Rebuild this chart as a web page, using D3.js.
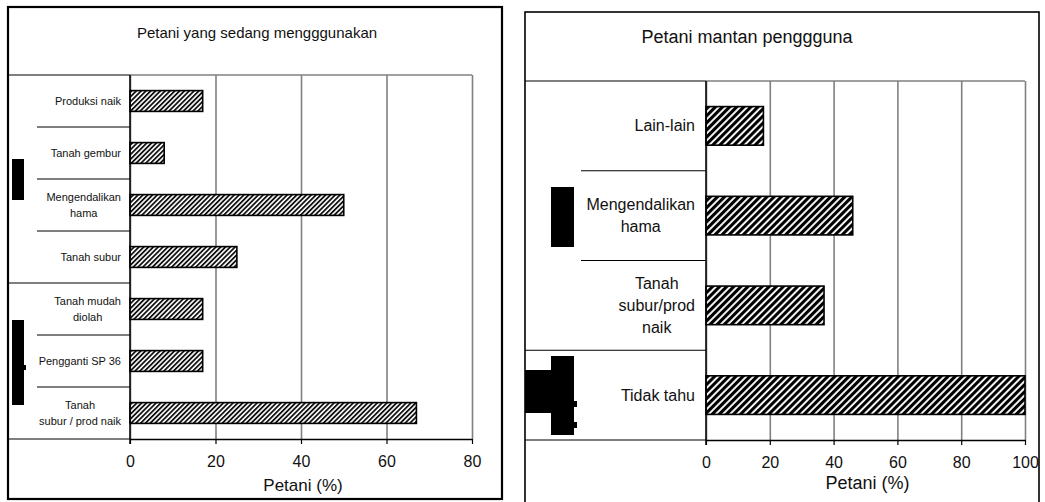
<!DOCTYPE html>
<html>
<head>
<meta charset="utf-8">
<script src="https://cdn.jsdelivr.net/npm/d3@7/dist/d3.min.js"></script>
<style>
  html, body { margin: 0; padding: 0; background: #fff; }
  svg { display: block; font-family: "Liberation Sans", Arial, sans-serif; }
</style>
</head>
<body>
<svg id="chart" width="1045" height="502"></svg>
<script>
// ---- data -------------------------------------------------------------
const leftTitle = "Petani yang sedang mengggunakan";
const leftCategories = [
  ["Produksi naik"],
  ["Tanah gembur"],
  ["Mengendalikan", "hama"],
  ["Tanah subur"],
  ["Tanah mudah", "diolah"],
  ["Pengganti SP 36"],
  ["Tanah", "subur / prod naik"]
];
const leftValues = [17, 8, 50, 25, 17, 17, 67];
const leftTicks = [0, 20, 40, 60, 80];

const rightTitle = "Petani mantan penggguna";
const rightCategories = [
  ["Lain-lain"],
  ["Mengendalikan", "hama"],
  ["Tanah", "subur/prod", "naik"],
  ["Tidak tahu"]
];
const rightValues = [18, 46, 37, 100];
const rightTicks = [0, 20, 40, 60, 80, 100];

const axisTitle = "Petani (%)";

// ---- drawing ----------------------------------------------------------
const svg = d3.select("#chart");
const defs = svg.append("defs");

// fine hatch for the first panel
const hatchA = defs.append("pattern")
  .attr("id", "hatchFine").attr("patternUnits", "userSpaceOnUse")
  .attr("width", 3.4).attr("height", 3.4)
  .attr("patternTransform", "rotate(45)");
hatchA.append("rect").attr("width", 3.4).attr("height", 3.4).attr("fill", "#fff");
hatchA.append("rect").attr("width", 1.8).attr("height", 3.4).attr("fill", "#111");

// bold hatch for the second panel
const hatchB = defs.append("pattern")
  .attr("id", "hatchBold").attr("patternUnits", "userSpaceOnUse")
  .attr("width", 5).attr("height", 5)
  .attr("patternTransform", "rotate(45)");
hatchB.append("rect").attr("width", 5).attr("height", 5).attr("fill", "#fff");
hatchB.append("rect").attr("width", 3.1).attr("height", 5).attr("fill", "#000");

function panel(cfg) {
  const g = svg.append("g");
  const x = d3.scaleLinear().domain(cfg.domain).range([cfg.plotLeft, cfg.plotRight]);
  const ids = cfg.categories.map((_, i) => i);
  const y = d3.scaleBand().domain(ids).range([cfg.plotTop, cfg.plotBottom])
    .paddingInner(cfg.padInner).paddingOuter(cfg.padInner / 2);
  const step = y.step();
  const h = cfg.plotBottom - cfg.plotTop;

  // outer frame
  g.append("rect")
    .attr("x", cfg.frame[0]).attr("y", cfg.frame[1])
    .attr("width", cfg.frame[2]).attr("height", cfg.frame[3])
    .attr("fill", "none").attr("stroke", "#000").attr("stroke-width", cfg.frameWidth);

  // title
  g.append("text").attr("x", cfg.titleX).attr("y", cfg.titleY).attr("dy", "0.35em")
    .attr("text-anchor", "middle").attr("font-size", cfg.titleSize).attr("fill", "#111")
    .text(cfg.title);

  // vertical gridlines + plot area frame (grey)
  g.append("g").attr("transform", `translate(0,${cfg.plotTop})`)
    .call(d3.axisBottom(x).tickValues(cfg.ticks).tickSize(h).tickFormat(""))
    .call(s => s.select(".domain").remove())
    .call(s => s.selectAll("line").attr("stroke", "#808080").attr("stroke-width", 1.6));
  g.append("line")
    .attr("x1", cfg.plotLeft).attr("x2", cfg.plotRight)
    .attr("y1", cfg.plotTop).attr("y2", cfg.plotTop)
    .attr("stroke", "#808080").attr("stroke-width", 1.6);

  // category table lines at the left
  const rows = d3.range(cfg.categories.length + 1);
  g.selectAll("line.sep").data(rows).join("line").attr("class", "sep")
    .attr("x1", i => (i === 0 || i === cfg.categories.length || i === cfg.fullRow) ? cfg.tableLeft : cfg.sepLeft)
    .attr("x2", cfg.plotLeft)
    .attr("y1", i => cfg.plotTop + i * step).attr("y2", i => cfg.plotTop + i * step)
    .attr("stroke", "#000").attr("stroke-width", 1.2);

  // bars
  g.selectAll("rect.bar").data(cfg.values).join("rect").attr("class", "bar")
    .attr("x", x(0)).attr("y", (d, i) => y(i))
    .attr("width", d => x(d) - x(0)).attr("height", y.bandwidth())
    .attr("fill", cfg.fill).attr("stroke", "#000").attr("stroke-width", 1.6);

  // bottom axis
  const ax = g.append("g").attr("transform", `translate(0,${cfg.plotBottom})`)
    .call(d3.axisBottom(x).tickValues(cfg.ticks).tickSize(5).tickPadding(12).tickSizeOuter(0));
  ax.select(".domain").attr("stroke", "#000").attr("stroke-width", 1.5);
  ax.selectAll("line").attr("stroke", "#000").attr("stroke-width", 1.2);
  ax.selectAll("text").attr("font-size", cfg.tickSize).attr("fill", "#111")
    .attr("font-family", "Liberation Sans, Arial, sans-serif");

  // left axis line
  g.append("line").attr("x1", cfg.plotLeft).attr("x2", cfg.plotLeft)
    .attr("y1", cfg.plotTop).attr("y2", cfg.plotBottom + 5)
    .attr("stroke", "#000").attr("stroke-width", 1.5);

  // axis title
  g.append("text").attr("x", (cfg.plotLeft + cfg.plotRight) / 2 + cfg.axisTitleShift)
    .attr("y", cfg.axisTitleY).attr("dy", "0.35em").attr("text-anchor", "middle")
    .attr("font-size", cfg.axisTitleSize).attr("fill", "#111").text(axisTitle);

  // category labels: lines centred within a block that is right-aligned
  cfg.categories.forEach((lines, i) => {
    const t = g.append("text").attr("font-size", cfg.labelSize).attr("fill", "#111")
      .attr("text-anchor", "middle");
    const cy = y(i) + y.bandwidth() / 2;
    const spans = lines.map((ln, k) => t.append("tspan").text(ln)
      .attr("y", cy + (k - (lines.length - 1) / 2) * cfg.lineHeight).attr("dy", "0.35em"));
    const w = d3.max(spans, s => s.node().getComputedTextLength());
    spans.forEach(s => s.attr("x", cfg.labelRight - w / 2));
  });

  // solid markers in the group column
  g.selectAll("rect.mark").data(cfg.marks).join("rect").attr("class", "mark")
    .attr("x", d => d[0]).attr("y", d => d[1]).attr("width", d => d[2]).attr("height", d => d[3])
    .attr("fill", "#000");
}

panel({
  title: leftTitle, categories: leftCategories, values: leftValues, ticks: leftTicks,
  domain: [0, 80], frame: [8, 7, 494, 492], frameWidth: 2.2,
  titleX: 257, titleY: 33, titleSize: 15,
  plotLeft: 130, plotRight: 472, plotTop: 75, plotBottom: 439,
  padInner: 0.6, tableLeft: 9, sepLeft: 37, fullRow: 4,
  fill: "url(#hatchFine)", tickSize: 16, axisTitleY: 485, axisTitleSize: 17, axisTitleShift: 2,
  labelSize: 11, lineHeight: 16, labelRight: 121,
  marks: [[12, 159, 12, 41], [12, 320, 12, 85], [24, 365, 2, 5]]
});

panel({
  title: rightTitle, categories: rightCategories, values: rightValues, ticks: rightTicks,
  domain: [0, 100], frame: [525, 12, 514, 500], frameWidth: 1.6,
  titleX: 747, titleY: 37, titleSize: 18,
  plotLeft: 706, plotRight: 1025, plotTop: 81, plotBottom: 440,
  padInner: 0.57, tableLeft: 525, sepLeft: 581, fullRow: 3,
  fill: "url(#hatchBold)", tickSize: 16, axisTitleY: 483, axisTitleSize: 18, axisTitleShift: 2,
  labelSize: 16, lineHeight: 22, labelRight: 695,
  marks: [[551, 187, 23, 60], [551, 356, 23, 79], [525, 370, 26, 43], [574, 401, 3, 6], [574, 422, 3, 6]]
});
</script>
</body>
</html>
